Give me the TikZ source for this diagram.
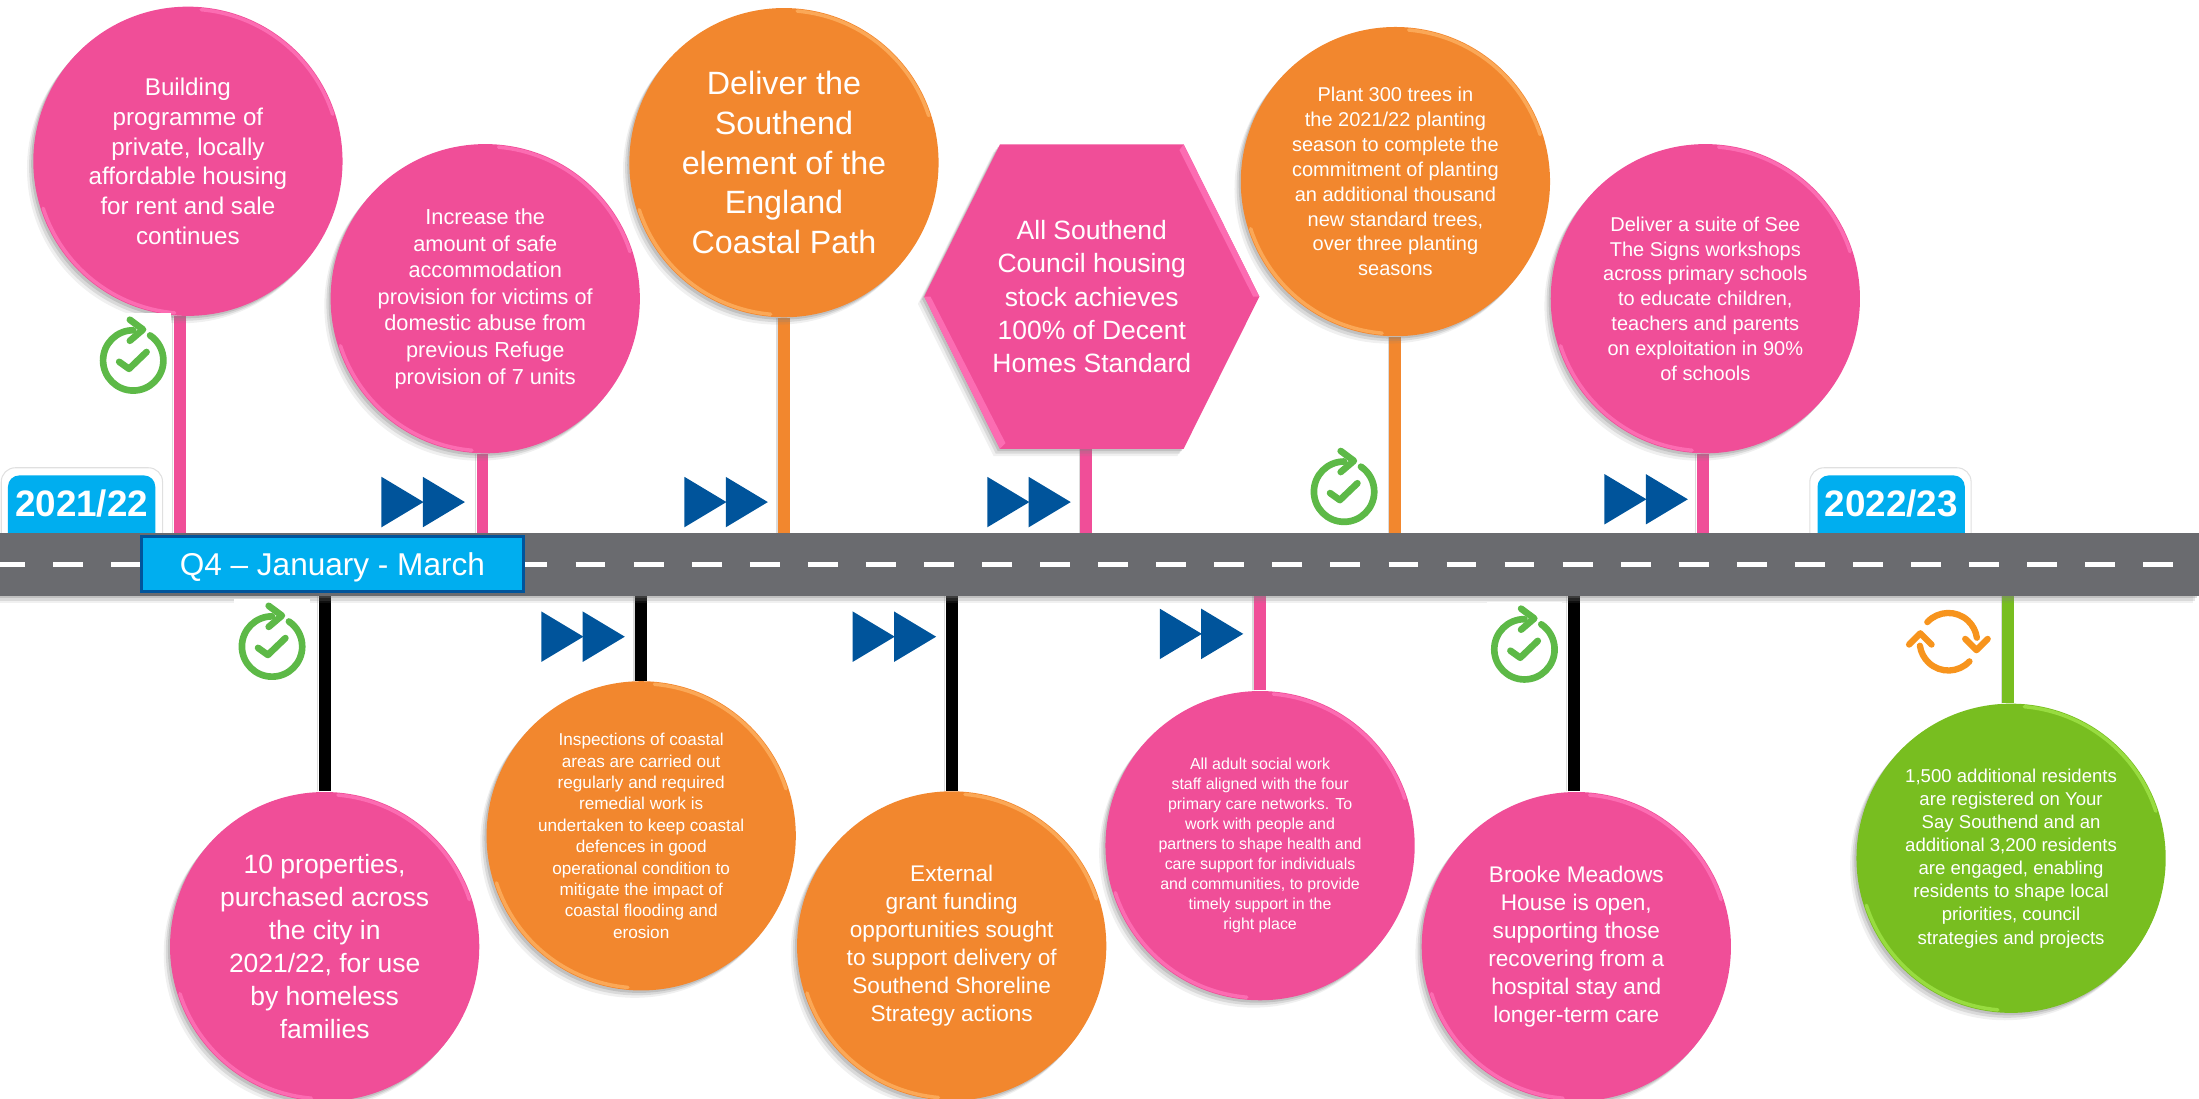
\documentclass[tikz,border=0pt]{standalone}
\usepackage{fontspec}
\setmainfont{Liberation Sans}
\usetikzlibrary{shadows,backgrounds}
\definecolor{discpink}{HTML}{F04E98}
\definecolor{rimpink}{HTML}{FC6CB2}
\definecolor{discorange}{HTML}{F2872E}
\definecolor{rimorange}{HTML}{FBA857}
\definecolor{discgreen}{HTML}{78BE20}
\definecolor{rimgreen}{HTML}{98DC40}
\definecolor{roadgrey}{HTML}{6A6B6F}
\definecolor{yearblue}{HTML}{00AEEF}
\definecolor{arrowblue}{HTML}{00549B}
\definecolor{tickgreen}{HTML}{5DB947}
\definecolor{cycleorange}{HTML}{F7941D}
\tikzset{
  softshadow/.style={
    drop shadow={shadow xshift=-.6pt,shadow yshift=-.7pt,opacity=.28},
    drop shadow={shadow xshift=-1.2pt,shadow yshift=-1.4pt,opacity=.2},
    drop shadow={shadow xshift=-1.8pt,shadow yshift=-2.1pt,opacity=.12}},
  bevel/.style={path picture={
    \draw [#1,line width=1pt,line cap=round] ([shift={(18:43.4pt)}]path picture bounding box.center) arc [start angle=18,end angle=85,radius=43.4pt];
    \draw [#1,line width=1pt,line cap=round] ([shift={(198:43.4pt)}]path picture bounding box.center) arc [start angle=198,end angle=265,radius=43.4pt];
  }},
  tickicon/.pic={
    \fill [white] (-27,-34) rectangle (27,25);
    \draw [yscale=-1,tickgreen,line width=1.9pt,line cap=round] (0,21.5) arc [start angle=90,end angle=416,radius=21.5];
    \draw [yscale=-1,tickgreen,line width=1.9pt,line cap=round,line join=round] (-2.4,29) -- (7,22) -- (-2.4,14);
    \draw [yscale=-1,tickgreen,line width=1.9pt,line cap=round,line join=round] (-10,-1) -- (-3,-6) -- (9.5,6);
  },
  forwardicon/.pic={
    \fill [arrowblue] (0,0) -- (30,18) -- (0,36) -- cycle;
    \fill [arrowblue] (29.5,0) -- (59.5,18) -- (29.5,36) -- cycle;
  },
  cycleicon/.pic={
    \fill [white] (-32,-26) rectangle (32,30);
    \draw [yscale=-1,cycleorange,line width=1.8pt,line cap=round] (-15,14) arc [start angle=137,end angle=8,radius=20.5];
    \draw [yscale=-1,cycleorange,line width=1.8pt,line cap=round,line join=round] (12,2) -- (20,-6) -- (28,2);
    \draw [yscale=-1,cycleorange,line width=1.8pt,line cap=round] (15,-14) arc [start angle=-43,end angle=-172,radius=20.5];
    \draw [yscale=-1,cycleorange,line width=1.8pt,line cap=round,line join=round] (-12,-2) -- (-20,6) -- (-28,-2);
  }
}

\begin{document}
\begin{tikzpicture}[x=0.4pt,y=-0.4pt]
            \tikzstyle{every node}+=[inner sep=0pt,align=center,text=white]
            \tikzstyle{disc}=[circle,minimum size=88.2pt,softshadow]
            \tikzstyle{pinkdisc}=[disc,fill=discpink,bevel=rimpink]
            \tikzstyle{orangedisc}=[disc,fill=discorange,bevel=rimorange]
            \tikzstyle{greendisc}=[disc,fill=discgreen,bevel=rimgreen]
            \tikzstyle{stem}=[line width=3.4pt,preaction={draw=black,opacity=.14,transform canvas={xshift=-1pt}},preaction={draw=black,opacity=.14,transform canvas={xshift=-2pt}}]
            \tikzstyle{yearframe}=[rectangle,rounded corners=4pt,fill=white,draw=black!12,line width=.3pt,minimum width=46pt,minimum height=24.6pt]
            \tikzstyle{yearbox}=[rectangle,rounded corners=3.2pt,fill=yearblue,minimum width=42pt,minimum height=20.4pt,text height=7.5pt,text depth=4.4pt,font=\bfseries\fontsize{10.5}{12}\selectfont]
            \useasboundingbox (0,0) rectangle (1568,783.6);
            \node [yearframe] (leftframe) at (58.4,364.3) {};
            \node [yearbox] (leftyear) at (58.2,364.5) {2021/22};
            \node [yearframe] (rightframe) at (1348,364.3) {};
            \node [yearbox] (rightyear) at (1348.5,364.5) {2022/23};
            \node [rectangle,fill=roadgrey,minimum width=627.2pt,minimum height=18pt,softshadow] (road) at (784,402.5) {};
            \draw [white,line width=1.4pt,dash pattern=on 8.5pt off 8.06pt,dash phase=1.2pt] (road.west) -- (road.east);
            \node [rectangle,fill=yearblue,draw=arrowblue,line width=.8pt,minimum width=109pt,minimum height=15.6pt,text height=6.6pt,text depth=0pt,font=\fontsize{9}{11}\selectfont] (quarter) at (237,402) {Q4 – January - March};
            \node [pinkdisc,font=\fontsize{6.9}{8.5}\selectfont] (building) at (134,115) {Building\\programme of\\private, locally\\affordable housing\\for rent and sale\\continues};
            \node [pinkdisc,font=\fontsize{6.2}{7.6}\selectfont] (refuge) at (346,213) {Increase the\\amount of safe\\accommodation\\provision for victims of\\domestic abuse from\\previous Refuge\\provision of 7 units};
            \node [orangedisc,font=\fontsize{9.2}{11.3}\selectfont] (coastpath) at (559,116) {Deliver the\\Southend\\element of the\\England\\Coastal Path};
            \fill [discpink,softshadow] (659,211.5) -- (713,103) -- (844,103) -- (898,211.5) -- (844,320) -- (713,320) -- cycle;
            \fill [rimpink] (844,103) -- (898,211.5) -- (893.5,211.5) -- (841,107) -- cycle;
            \fill [rimpink] (659,211.5) -- (713,320) -- (717,316) -- (663.5,211.5) -- cycle;
            \node [minimum width=70pt,minimum height=86.8pt,font=\fontsize{7.55}{9.45}\selectfont] (decenthomes) at (778.5,211.5) {All Southend\\Council housing\\stock achieves\\100\% of Decent\\Homes Standard};
            \node [orangedisc,font=\fontsize{5.7}{7.1}\selectfont] (trees) at (995,129.5) {Plant 300 trees in\\the 2021/22 planting\\season to complete the\\commitment of planting\\an additional thousand\\new standard trees,\\over three planting\\seasons};
            \node [pinkdisc,font=\fontsize{5.7}{7.1}\selectfont] (seesigns) at (1216,213) {Deliver a suite of See\\The Signs workshops\\across primary schools\\to educate children,\\teachers and parents\\on exploitation in 90\%\\of schools};
            \node [pinkdisc,font=\fontsize{7.55}{9.4}\selectfont] (properties) at (231.5,675) {10 properties,\\purchased across\\the city in\\2021/22, for use\\by homeless\\families};
            \node [orangedisc,font=\fontsize{4.9}{6.1}\selectfont] (inspections) at (457.2,596) {Inspections of coastal\\areas are carried out\\regularly and required\\remedial work is\\undertaken to keep coastal\\defences in good\\operational condition to\\mitigate the impact of\\coastal flooding and\\erosion};
            \node [orangedisc,font=\fontsize{6.45}{8}\selectfont] (shoreline) at (678.6,674.5) {External\\grant funding\\opportunities sought\\to support delivery of\\Southend Shoreline\\Strategy actions};
            \node [pinkdisc,font=\fontsize{4.55}{5.7}\selectfont] (socialwork) at (898.5,603) {All adult social work\\staff aligned with the four\\primary care networks. To\\work with people and\\partners to shape health and\\care support for individuals\\and communities, to provide\\timely support in the\\right place};
            \node [pinkdisc,font=\fontsize{6.45}{8}\selectfont] (brooke) at (1124,675) {Brooke Meadows\\House is open,\\supporting those\\recovering from a\\hospital stay and\\longer-term care};
            \node [greendisc,font=\fontsize{5.3}{6.6}\selectfont] (residents) at (1434,612) {1,500 additional residents\\are registered on Your\\Say Southend and an\\additional 3,200 residents\\are engaged, enabling\\residents to shape local\\priorities, council\\strategies and projects};
            \begin{scope}[on background layer]
            \draw [stem,discpink] (building.267.7) -- (building.267.7 |- road.center);
            \draw [stem,discpink] (refuge.269) -- (refuge.269 |- road.center);
            \draw [stem,discorange] (coastpath.south) -- (coastpath.south |- road.center);
            \draw [stem,discpink] (decenthomes.268.7) -- (decenthomes.268.7 |- road.center);
            \draw [stem,discorange] (trees.south) -- (trees.south |- road.center);
            \draw [stem,discpink] (seesigns.269) -- (seesigns.269 |- road.center);
            \draw [stem,black] (properties.north) -- (properties.north |- road.center);
            \draw [stem,black] (inspections.north) -- (inspections.north |- road.center);
            \draw [stem,black] (shoreline.north) -- (shoreline.north |- road.center);
            \draw [stem,discpink] (socialwork.north) -- (socialwork.north |- road.center);
            \draw [stem,black] (brooke.91) -- (brooke.91 |- road.center);
            \draw [stem,discgreen] (residents.91) -- (residents.91 |- road.center);
            \end{scope}
            \pic at (95,257) {tickicon};
            \pic at (194,461) {tickicon};
            \pic at (958.4,350.6) {tickicon};
            \pic at (1087,463) {tickicon};
            \pic at (272,340) {forwardicon};
            \pic at (488,340) {forwardicon};
            \pic at (704,340) {forwardicon};
            \pic at (1144,338) {forwardicon};
            \pic at (386,436) {forwardicon};
            \pic at (608,436) {forwardicon};
            \pic at (827,434) {forwardicon};
            \pic at (1389.3,457.6) {cycleicon};
\end{tikzpicture}
\end{document}
